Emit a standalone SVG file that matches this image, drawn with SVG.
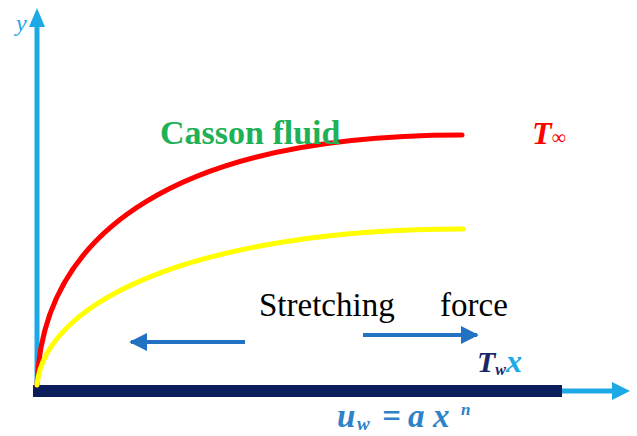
<svg xmlns="http://www.w3.org/2000/svg" width="637" height="436" viewBox="0 0 637 436">
<style>
.ax{stroke:#1ca9e6;stroke-width:5;fill:none}
.axh{fill:#1ca9e6}
.curve{fill:none;stroke-width:5;stroke-linecap:round}
.force{stroke:#2272c3;stroke-width:4;fill:none}
.serif{font-family:"Liberation Serif","Times New Roman",serif}
</style>
<defs>
<marker id="fa" viewBox="0 0 10 10" refX="9" refY="5" markerWidth="4.5" markerHeight="4.5" orient="auto" markerUnits="strokeWidth">
<path d="M0,0 L10,5 L0,10 Z" fill="#2272c3"/>
</marker>
</defs>
<rect width="637" height="436" fill="#fff"/>
<g id="axes">
<line class="ax" x1="37" y1="392" x2="37" y2="24"/>
<polygon class="axh" points="37,8 29,27 45,27"/>
<line class="ax" x1="560" y1="391" x2="614" y2="391"/>
<polygon class="axh" points="630,391 612,382 612,400"/>
<rect id="sheet" x="33" y="385" width="529" height="12" fill="#0b1e5b"/>
</g>
<g id="curves">
<path id="red" class="curve" stroke="#ff0000" d="M37,385 C42,230 180,135 462,135"/>
<path id="yellow" class="curve" stroke="#ffff00" d="M37,385 C45,300 200,229 463,229"/>
</g>
<g id="connectors">
<line class="force" x1="245" y1="342" x2="131" y2="342" marker-end="url(#fa)"/>
<line class="force" x1="363" y1="335" x2="477" y2="335" marker-end="url(#fa)"/>
</g>
<g id="labels" class="serif">
<text x="16" y="31" font-size="24" font-style="italic" fill="#1ca9e6">y</text>
<text x="160" y="144" font-size="34" font-weight="bold" fill="#1fb157">Casson fluid</text>
<text x="532" y="144" font-size="32" font-weight="bold" font-style="italic" fill="#ff0000">T<tspan font-size="20" font-style="normal" font-weight="normal">∞</tspan></text>
<text x="259" y="316" font-size="33" fill="#000">Stretching</text>
<text x="440" y="316" font-size="33" fill="#000">force</text>
<text x="477" y="372" font-size="30" font-weight="bold" font-style="italic" fill="#1a2668">T<tspan font-size="16" dy="3">w</tspan><tspan fill="#1ca9e6" dy="-3" font-size="32">x</tspan></text>
<text y="427" font-size="33" font-weight="bold" font-style="italic" fill="#2d82c8"><tspan x="337">u</tspan><tspan x="357" font-size="19" dy="3">w</tspan><tspan x="382" dy="-3">=</tspan><tspan x="408">a</tspan><tspan x="433">x</tspan><tspan x="461" font-size="17" dy="-12">n</tspan></text>
</g>
</svg>
